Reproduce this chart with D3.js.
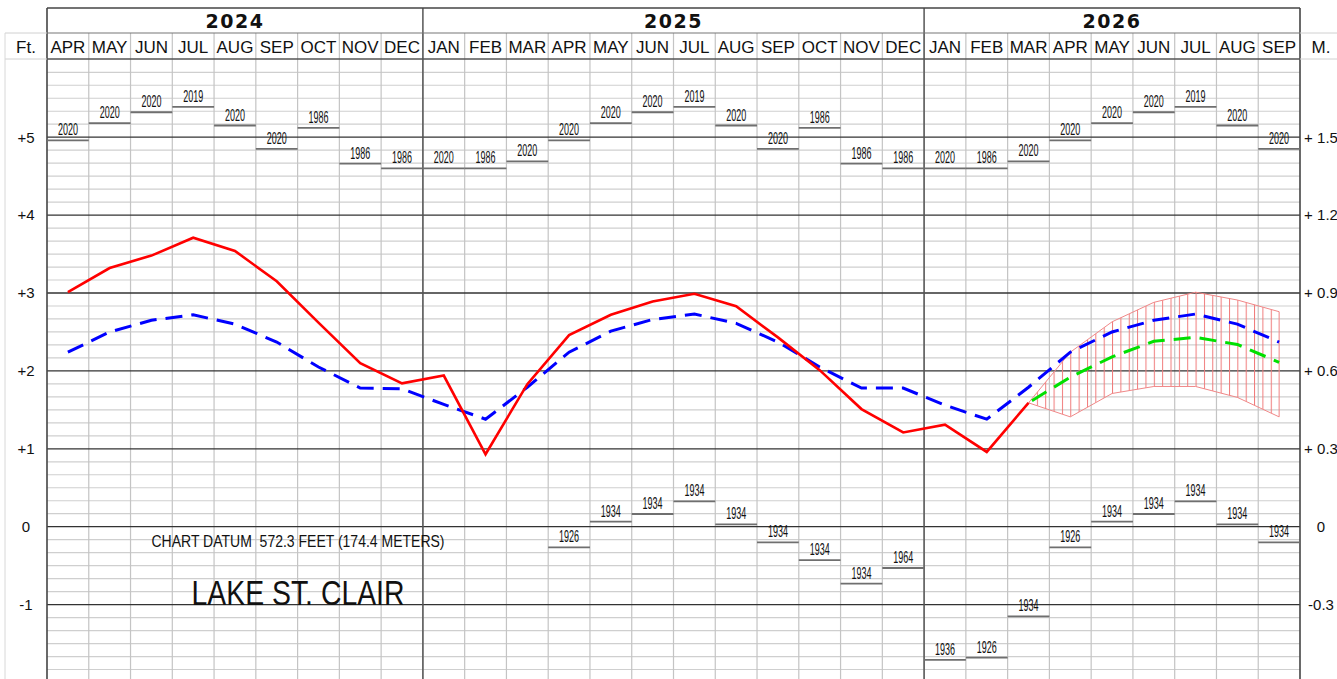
<!DOCTYPE html>
<html>
<head>
<meta charset="utf-8">
<script src="https://cdn.jsdelivr.net/npm/d3@7"></script>
<style>
  html, body { margin: 0; padding: 0; background: #fff; }
  svg { display: block; }
  .narrow { font-family: "Liberation Sans Narrow", "Arial Narrow", "Liberation Sans", Arial, sans-serif; }
</style>
</head>
<body>
<svg id="chart" width="1337" height="679"></svg>
<script>
// ---------------- DATA ----------------
const yearLabels = ["2024", "2025", "2026"];
const yearMonthCounts = [9, 12, 9];
const months = ["APR","MAY","JUN","JUL","AUG","SEP","OCT","NOV","DEC",
  "JAN","FEB","MAR","APR","MAY","JUN","JUL","AUG","SEP","OCT","NOV","DEC",
  "JAN","FEB","MAR","APR","MAY","JUN","JUL","AUG","SEP"];

const leftTickValues = [5, 4, 3, 2, 1, 0, -1];
const leftTickLabels = ["+5", "+4", "+3", "+2", "+1", "0", "-1"];
const rightTickLabels = ["+ 1.5", "+ 1.2", "+ 0.9", "+ 0.6", "+ 0.3", "0", "-0.3"];

// Record highs (ft above chart datum) and year of record
const recordHighValues = [4.96,5.18,5.32,5.39,5.15,4.85,5.12,4.66,4.60,
  4.60,4.60,4.69,4.96,5.18,5.32,5.39,5.15,4.85,5.12,4.66,4.60,
  4.60,4.60,4.69,4.96,5.18,5.32,5.39,5.15,4.85];
const recordHighYears = ["2020","2020","2020","2019","2020","2020","1986","1986","1986",
  "2020","1986","2020","2020","2020","2020","2019","2020","2020","1986","1986","1986",
  "2020","1986","2020","2020","2020","2020","2019","2020","2020"];

// Record lows (only drawn where shown)
const recordLowValues = [null,null,null,null,null,null,null,null,null,
  null,null,null,-0.265,0.064,0.163,0.326,0.03,-0.20,-0.43,-0.73,-0.53,
  -1.71,-1.68,-1.15,-0.265,0.064,0.163,0.326,0.03,-0.20];
const recordLowYears = [null,null,null,null,null,null,null,null,null,
  null,null,null,"1926","1934","1934","1934","1934","1934","1934","1934","1964",
  "1936","1926","1934","1926","1934","1934","1934","1934","1934"];

// Recorded monthly mean levels (Apr 2024 - Mar 2026)
const actualLevels = [3.01,3.32,3.48,3.71,3.54,3.15,2.62,2.10,1.84,
  1.94,0.93,1.83,2.46,2.72,2.89,2.99,2.83,2.43,2.01,1.51,1.21,
  1.31,0.96,1.59];

// Long-term average levels
const averageLevels = [2.24,2.50,2.65,2.72,2.60,2.37,2.05,1.78,1.77,
  1.57,1.38,1.79,2.24,2.51,2.66,2.73,2.61,2.37,2.05,1.78,1.78,
  1.56,1.38,1.79,2.24,2.50,2.65,2.73,2.60,2.37];

// Forecast (Mar 2026 - Sep 2026)
const forecastStart = 23;
const forecastMostProbable = [1.59,1.92,2.18,2.38,2.43,2.34,2.11];
const forecastHigh = [1.59,2.24,2.63,2.88,3.01,2.91,2.76];
const forecastLow = [1.59,1.41,1.71,1.80,1.80,1.66,1.41];

const datumText = "CHART DATUM  572.3 FEET (174.4 METERS)";
const lakeName = "LAKE ST. CLAIR";

// ---------------- LAYOUT ----------------
const svg = d3.select("#chart");
const left = 47, right = 1300;
const headerTop = 8, yearRowBottom = 33, plotTop = 59;

const x = d3.scaleBand().domain(d3.range(months.length)).range([left, right]).padding(0);
const bw = x.bandwidth();
const cx = i => x(i) + bw / 2;
const y = d3.scaleLinear().domain([-2, 6]).range([682.5, 59.3]);
const plotBottom = 679;

// ---------------- GRID ----------------
const grid = svg.append("g");
grid.selectAll("line.minor").data(d3.range(-12, 37).map(k => k / 6).filter(v => Math.abs(v - Math.round(v)) > 1e-6))
  .join("line")
  .attr("x1", left).attr("x2", right)
  .attr("y1", d => y(d)).attr("y2", d => y(d))
  .attr("stroke", "#cfcfcf").attr("stroke-width", 1.2);

grid.selectAll("line.month").data(d3.range(1, months.length))
  .join("line")
  .attr("x1", d => x(d)).attr("x2", d => x(d))
  .attr("y1", yearRowBottom).attr("y2", plotBottom)
  .attr("stroke", "#c4c4c4").attr("stroke-width", 1.2);

grid.selectAll("line.major").data(d3.range(-1, 6))
  .join("line")
  .attr("x1", left).attr("x2", right)
  .attr("y1", d => y(d)).attr("y2", d => y(d))
  .attr("stroke", "#333").attr("stroke-width", 1.3);

const yearStarts = yearMonthCounts.map((c, i) => d3.sum(yearMonthCounts.slice(0, i)));
grid.selectAll("line.year").data(yearStarts.slice(1))
  .join("line")
  .attr("x1", d => x(d)).attr("x2", d => x(d))
  .attr("y1", headerTop).attr("y2", plotBottom)
  .attr("stroke", "#555").attr("stroke-width", 1.5);

grid.append("line").attr("x1", left).attr("x2", left).attr("y1", headerTop).attr("y2", plotBottom).attr("stroke", "#444").attr("stroke-width", 1.6);
grid.append("line").attr("x1", right).attr("x2", right).attr("y1", headerTop).attr("y2", plotBottom).attr("stroke", "#444").attr("stroke-width", 1.6);
grid.append("line").attr("x1", left).attr("x2", right).attr("y1", headerTop).attr("y2", headerTop).attr("stroke", "#444").attr("stroke-width", 1.6);
grid.append("line").attr("x1", left).attr("x2", right).attr("y1", yearRowBottom).attr("y2", yearRowBottom).attr("stroke", "#777").attr("stroke-width", 1.2);
grid.append("line").attr("x1", left).attr("x2", right).attr("y1", plotTop).attr("y2", plotTop).attr("stroke", "#555").attr("stroke-width", 1.3);
[[5, left], [right, 1337]].forEach(([a, b]) => {
  [yearRowBottom, plotTop].forEach(yy => {
    grid.append("line").attr("x1", a).attr("x2", b).attr("y1", yy).attr("y2", yy).attr("stroke", "#d0d0d0").attr("stroke-width", 1);
  });
});
grid.append("line").attr("x1", 5).attr("x2", 5).attr("y1", yearRowBottom).attr("y2", plotBottom).attr("stroke", "#d8d8d8").attr("stroke-width", 1);

// ---------------- HEADER TEXT ----------------
svg.selectAll("text.year").data(yearLabels)
  .join("text")
  .attr("x", (d, i) => (x(yearStarts[i]) + x(yearStarts[i] + yearMonthCounts[i] - 1) + bw) / 2)
  .attr("y", 28)
  .attr("text-anchor", "middle")
  .attr("font-family", "DejaVu Sans, sans-serif")
  .attr("font-weight", "bold")
  .attr("font-size", 19)
  .attr("letter-spacing", 1.5)
  .attr("fill", "#111")
  .text(d => d);

const monthAxis = d3.axisTop(x).tickSize(0).tickPadding(0).tickFormat(i => months[i]);
const mAx = svg.append("g").attr("transform", `translate(0,${53})`).call(monthAxis);
mAx.select(".domain").remove();
mAx.selectAll("text")
  .attr("class", "narrow")
  .attr("font-family", null)
  .attr("font-size", 17)
  .attr("fill", "#111")
  .attr("dy", 0)
  .attr("y", 0);

svg.append("text").attr("class", "narrow").attr("x", 26).attr("y", 53).attr("text-anchor", "middle")
  .attr("font-size", 17).attr("fill", "#111").text("Ft.");
svg.append("text").attr("class", "narrow").attr("x", 1321).attr("y", 53).attr("text-anchor", "middle")
  .attr("font-size", 17).attr("fill", "#111").text("M.");

// ---------------- Y AXES ----------------
const leftAxis = d3.axisLeft(y).tickValues(leftTickValues).tickSize(0)
  .tickFormat((d, i) => leftTickLabels[i]);
const lAx = svg.append("g").attr("transform", `translate(${left},0)`).call(leftAxis);
lAx.select(".domain").remove();
lAx.selectAll("text").attr("class", "narrow").attr("font-family", null)
  .attr("font-size", 15).attr("fill", "#111").attr("text-anchor", "middle").attr("x", 26 - left);

const rightAxis = d3.axisRight(y).tickValues(leftTickValues).tickSize(0)
  .tickFormat((d, i) => rightTickLabels[i]);
const rAx = svg.append("g").attr("transform", `translate(${right},0)`).call(rightAxis);
rAx.select(".domain").remove();
rAx.selectAll("text").attr("class", "narrow").attr("font-family", null)
  .attr("font-size", 15).attr("fill", "#111").attr("text-anchor", "middle").attr("x", 21);

// ---------------- RECORD HIGHS / LOWS ----------------
function records(values, years) {
  const g = svg.append("g");
  const data = values.map((v, i) => ({ i, v, yr: years[i] })).filter(d => d.v !== null);
  g.selectAll("line").data(data).join("line")
    .attr("x1", d => x(d.i)).attr("x2", d => x(d.i) + bw)
    .attr("y1", d => y(d.v)).attr("y2", d => y(d.v))
    .attr("stroke", "#6f6f6f").attr("stroke-width", 1.8);
  g.selectAll("text").data(data).join("text")
    .attr("class", "narrow")
    .attr("x", d => cx(d.i)).attr("y", d => y(d.v) - 5)
    .attr("text-anchor", "middle")
    .attr("font-size", 16)
    .attr("textLength", 20).attr("lengthAdjust", "spacingAndGlyphs")
    .attr("fill", "#111")
    .text(d => d.yr);
}
records(recordHighValues, recordHighYears);
records(recordLowValues, recordLowYears);

// ---------------- ANNOTATIONS ----------------
svg.append("text").attr("class", "narrow")
  .attr("x", 298).attr("y", 547).attr("text-anchor", "middle")
  .attr("font-size", 17).attr("textLength", 293).attr("lengthAdjust", "spacingAndGlyphs")
  .attr("fill", "#111").style("white-space", "pre")
  .text(datumText);
svg.append("text").attr("class", "narrow")
  .attr("x", 298).attr("y", 605).attr("text-anchor", "middle")
  .attr("font-size", 35).attr("textLength", 213).attr("lengthAdjust", "spacingAndGlyphs")
  .attr("fill", "#111")
  .text(lakeName);

// ---------------- FORECAST BAND ----------------
const fIdx = forecastHigh.map((d, k) => forecastStart + k);
const defs = svg.append("defs");
const pat = defs.append("pattern").attr("id", "hatch")
  .attr("patternUnits", "userSpaceOnUse")
  .attr("x", cx(forecastStart)).attr("y", 0)
  .attr("width", bw / 5).attr("height", 10);
pat.append("line").attr("x1", 0.5).attr("x2", 0.5).attr("y1", 0).attr("y2", 10)
  .attr("stroke", "#f07a7a").attr("stroke-width", 1);

const area = d3.area()
  .x((d, k) => cx(fIdx[k]))
  .y0((d, k) => y(forecastLow[k]))
  .y1((d, k) => y(forecastHigh[k]));
svg.append("path").datum(forecastHigh)
  .attr("d", area)
  .attr("fill", "url(#hatch)")
  .attr("stroke", "#f08888").attr("stroke-width", 1);

// ---------------- LINES ----------------
const line = d3.line().defined(d => d.v !== null).x(d => cx(d.i)).y(d => y(d.v));

svg.append("path").datum(averageLevels.map((v, i) => ({ i, v })))
  .attr("d", line).attr("fill", "none")
  .attr("stroke", "#0000ff").attr("stroke-width", 3).attr("stroke-dasharray", "17,9");

svg.append("path").datum(forecastMostProbable.map((v, k) => ({ i: forecastStart + k, v })))
  .attr("d", line).attr("fill", "none")
  .attr("stroke", "#00e000").attr("stroke-width", 3).attr("stroke-dasharray", "17,9")
  .attr("stroke-dashoffset", -4);

svg.append("path").datum(actualLevels.map((v, i) => ({ i, v })))
  .attr("d", line).attr("fill", "none")
  .attr("stroke", "#ff0000").attr("stroke-width", 2.6).attr("stroke-linejoin", "miter");
</script>
</body>
</html>
